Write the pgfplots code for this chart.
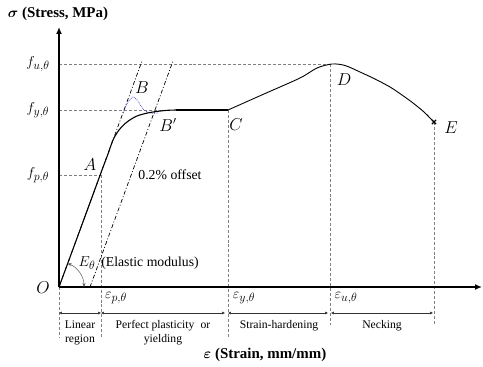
\documentclass[border=0pt]{standalone}
\usepackage{pgfplots}
\pgfplotsset{compat=1.18}
\usepackage{bm}
\usepackage{fontspec}
\setmainfont{Liberation Serif}
\usetikzlibrary{arrows.meta}
\DeclareMathSizes{15}{15}{12}{10}
\DeclareMathSizes{15.5}{15.5}{12.4}{10}
\begin{document}
\begin{tikzpicture}
\begin{axis}[
  scale only axis, width=483bp, height=367bp,
  xmin=0, xmax=483, ymin=0, ymax=367, y dir=reverse,
  hide axis, clip=false,
]
\coordinate (BL) at (axis cs:0,367);
\coordinate (TR) at (axis cs:483,0);
% dashed guide lines
\addplot[gray, densely dashed, line width=0.5pt] coordinates {(59,64) (332,64)};
\addplot[gray, densely dashed, line width=0.5pt] coordinates {(59,110) (170,110)};
\addplot[gray, densely dashed, line width=0.5pt] coordinates {(59,175) (101,175)};
\addplot[gray, densely dashed, line width=0.5pt] coordinates {(59,287) (59,337)};
\addplot[gray, densely dashed, line width=0.5pt] coordinates {(101,170) (101,337)};
\addplot[gray, densely dashed, line width=0.5pt] coordinates {(228,110) (228,337)};
\addplot[gray, densely dashed, line width=0.5pt] coordinates {(330,64) (330,325)};
\addplot[gray, densely dashed, line width=0.5pt] coordinates {(434,122) (434,325)};
% dash-dot lines
\addplot[black, dash pattern=on 4pt off 2pt on 1pt off 2pt, line width=0.7pt] coordinates {(59,287) (142,61)};
\addplot[black, dash pattern=on 4pt off 2pt on 1pt off 2pt, line width=0.7pt] coordinates {(90,287) (173,61)};
% blue dotted bump
\addplot[blue!55!gray, densely dotted, line width=0.7pt, smooth] coordinates {(123,113) (128,102) (133,97) (138,101) (143,109) (150,113) (158,113)};
% main curve
\addplot[black, line width=1.1pt, smooth, tension=0.5] coordinates {
 (59,287) (80,230) (102,170) (108,154) (113,140) (119,130) (127,122) (137,116) (150,112.5) (165,110.5) (176,110)};
\addplot[black, line width=1.1pt] coordinates {(176,110) (228,110)};
\addplot[black, line width=0.9pt, smooth, tension=0.5] coordinates {
 (228,110) (264,94) (300,78) (317,68) (332,64) (345,65.5) (360,72) (375,79) (390,87) (402,95) (413,103) (424,112) (434,122)};
\addplot[black, only marks, mark=x, mark size=3pt, line width=1.3pt] coordinates {(434,122)};
% axes
\draw[line width=2pt, -{Latex[length=7pt,width=6pt]}] (axis cs:59,287) -- (axis cs:59,27);
\draw[line width=2pt, -{Latex[length=7pt,width=6pt]}] (axis cs:59,287) -- (axis cs:482,287);
% elastic modulus arc
\draw[gray!70!black, line width=0.5pt, {Stealth[length=4pt]}-{Stealth[length=4pt]}] ([shift={(70:25bp)}]axis cs:59,287) arc[start angle=70, end angle=0, radius=25bp];
% region arrows
\draw[black!80, line width=0.5pt, {Latex[length=3pt,width=3pt]}-{Latex[length=3pt,width=3pt]}] (axis cs:59,313) -- (axis cs:101,313);
\draw[black!80, line width=0.5pt, {Latex[length=3pt,width=3pt]}-{Latex[length=3pt,width=3pt]}] (axis cs:101,313) -- (axis cs:225,313);
\draw[black!80, line width=0.5pt, {Latex[length=3pt,width=3pt]}-{Latex[length=3pt,width=3pt]}] (axis cs:228,313) -- (axis cs:328,313);
\draw[black!80, line width=0.5pt, {Latex[length=3pt,width=3pt]}-{Latex[length=3pt,width=3pt]}] (axis cs:331,313) -- (axis cs:433,313);
% labels
\node[font=\fontsize{15}{17}\selectfont\bfseries] at (axis cs:58,14) {$\bm{\sigma}$ (Stress, MPa)};
\node[font=\fontsize{15}{17}\selectfont\bfseries] at (axis cs:265,355) {$\bm{\varepsilon}$ (Strain, mm/mm)};
\node[font=\fontsize{15}{17}\selectfont] at (axis cs:38,64) {$f_{u,\theta}$};
\node[font=\fontsize{15}{17}\selectfont] at (axis cs:38,110) {$f_{y,\theta}$};
\node[font=\fontsize{15}{17}\selectfont] at (axis cs:38,175) {$f_{p,\theta}$};
\node[font=\fontsize{16}{17}\selectfont] at (axis cs:43,288) {$O$};
\node[font=\fontsize{16}{17}\selectfont] at (axis cs:90,165) {$A$};
\node[font=\fontsize{16}{17}\selectfont] at (axis cs:142,88) {$B$};
\node[font=\fontsize{16}{17}\selectfont] at (axis cs:168,125) {$B'$};
\node[font=\fontsize{16}{17}\selectfont] at (axis cs:236,125) {$C$};
\node[font=\fontsize{16}{17}\selectfont] at (axis cs:344,80) {$D$};
\node[font=\fontsize{16}{17}\selectfont] at (axis cs:451,128) {$E$};
\node[font=\fontsize{13.8}{16}\selectfont] at (axis cs:170,175) {0.2\% offset};
\node[font=\fontsize{15}{17}\selectfont] at (axis cs:87,263) {$E_\theta$};
\node[font=\fontsize{13.8}{16}\selectfont] at (axis cs:150,263) {(Elastic modulus)};
\node[font=\fontsize{15.5}{17}\selectfont] at (axis cs:116,298) {$\varepsilon_{p,\theta}$};
\node[font=\fontsize{15.5}{17}\selectfont] at (axis cs:244,298) {$\varepsilon_{y,\theta}$};
\node[font=\fontsize{15.5}{17}\selectfont] at (axis cs:346,298) {$\varepsilon_{u,\theta}$};
\node[font=\fontsize{11.7}{14}\selectfont, align=center] at (axis cs:80,333) {Linear\\region};
\node[font=\fontsize{11.7}{14}\selectfont, align=center] at (axis cs:163,333) {Perfect plasticity\; or\\yielding};
\node[font=\fontsize{11.7}{14}\selectfont] at (axis cs:279,326) {Strain-hardening};
\node[font=\fontsize{11.7}{14}\selectfont] at (axis cs:382,326) {Necking};
\end{axis}
\pgfresetboundingbox
\useasboundingbox (BL) rectangle (TR);
\end{tikzpicture}
\end{document}
